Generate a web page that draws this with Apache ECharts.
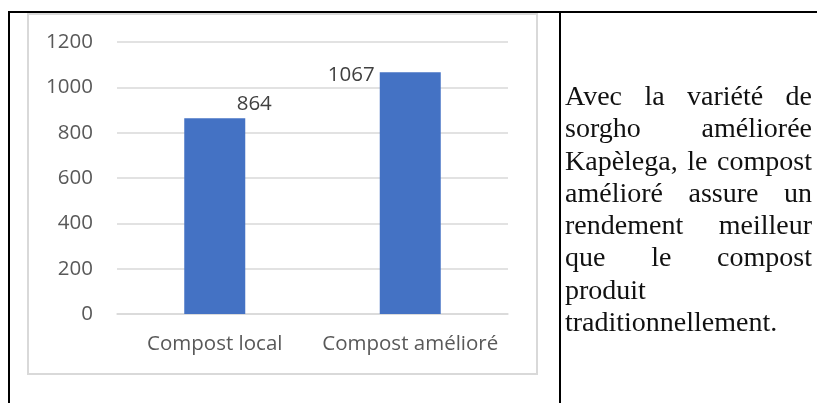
<!DOCTYPE html>
<html>
<head>
<meta charset="utf-8">
<script src="https://cdn.jsdelivr.net/npm/echarts@6/dist/echarts.min.js"></script>
<style>
  html, body { margin: 0; padding: 0; background: #fff; }
  #page { position: relative; width: 817px; height: 403px; overflow: hidden; }
  .rule { position: absolute; background: #000; }
  #box { position: absolute; left: 27px; top: 13px; width: 507px; height: 358px; border: 2px solid #d9d9d9; }
  #main { position: absolute; left: 0; top: 0; width: 817px; height: 403px; }
  #note {
    position: absolute; left: 565px; top: 80px; width: 247px;
    font-family: "Liberation Serif", serif; font-size: 28px; line-height: 32.3px;
    text-align: justify; color: #111;
  }
</style>
</head>
<body>
<div id="page">
  <div class="rule" style="left:8px; top:11px; width:809px; height:2px;"></div>
  <div class="rule" style="left:8px; top:11px; width:2px; height:392px;"></div>
  <div class="rule" style="left:559px; top:11px; width:2px; height:392px;"></div>
  <div id="box"></div>
  <div id="main"></div>
  <div id="note">Avec la variété de sorgho améliorée Kapèlega, le compost amélioré assure un rendement meilleur que le compost produit traditionnellement.</div>
</div>
<script>
// rendement selon le type de compost
const categories = ['Compost local', 'Compost amélioré'];
const rendement = [864, 1067];
const yMin = 0;
const yMax = 1200;
const yStep = 200;

// Excel left the value labels a bit off the bar centre
const labelPlaces = [
    { position: [70, -14], align: 'center' },
    { position: [-5, 3], align: 'right' }
];

const myChart = echarts.init(document.getElementById('main'));

const option = {
    animation: false,
    grid: {
        left: 117,
        right: 309,
        top: 42,
        bottom: 89
    },
    xAxis: {
        type: 'category',
        data: categories,
        axisLine: { show: true, lineStyle: { color: '#d9d9d9', width: 1.5 } },
        axisTick: { show: false },
        axisLabel: {
            interval: 0,
            color: '#595959',
            fontFamily: 'Open Sans',
            fontSize: 20.5,
            margin: 20
        }
    },
    yAxis: {
        type: 'value',
        min: yMin,
        max: yMax,
        interval: yStep,
        axisLine: { show: false },
        axisTick: { show: false },
        axisLabel: {
            formatter: v => String(v),
            color: '#595959',
            fontFamily: 'Open Sans',
            fontSize: 20.5,
            margin: 24
        },
        splitLine: { lineStyle: { color: '#d9d9d9', width: 1.5 } }
    },
    series: [{
        type: 'bar',
        barWidth: 61,
        itemStyle: { color: '#4472c4' },
        data: rendement.map((v, i) => ({
            value: v,
            label: {
                show: true,
                position: labelPlaces[i].position,
                align: labelPlaces[i].align,
                verticalAlign: 'middle',
                color: '#404040',
                fontFamily: 'Open Sans',
                fontSize: 20.5
            }
        }))
    }]
};

myChart.setOption(option);
</script>
</body>
</html>
